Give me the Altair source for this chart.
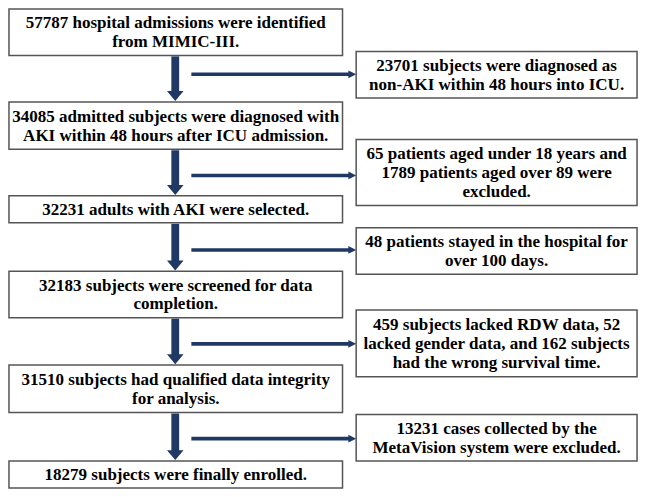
import altair as alt
import pandas as pd

# ---- content ----
main_steps = [
    "57787 hospital admissions were identified\nfrom MIMIC-III.",
    "34085 admitted subjects were diagnosed with\nAKI within 48 hours after ICU admission.",
    "32231 adults with AKI were selected.",
    "32183 subjects were screened for data\ncompletion.",
    "31510 subjects had qualified data integrity\nfor analysis.",
    "18279 subjects were finally enrolled.",
]
exclusions = [
    "23701 subjects were diagnosed as\nnon-AKI within 48 hours into ICU.",
    "65 patients aged under 18 years and\n1789 patients aged over 89 were\nexcluded.",
    "48 patients stayed in the hospital for\nover 100 days.",
    "459 subjects lacked RDW data, 52\nlacked gender data, and 162 subjects\nhad the wrong survival time.",
    "13231 cases collected by the\nMetaVision system were excluded.",
]

# ---- layout (reference pixel space 647 x 497) ----
left_x = (1, 343)
left_top = [1, 97, 194, 272, 369, 468]
left_bot = [49, 146, 222, 320, 418, 496]
right_x = (357, 645)
right_top = [45, 136, 227, 312, 420]
right_bot = [93, 204, 275, 381, 468]
h_arrow_y = [68.5, 173, 250, 347, 445]
v_arrow_x = 171.5
h_arrow_x0 = 188

W, H = 631, 481
SX, SY = W / 647, H / 497
NAVY = "#1f3864"
LH = 19.5  # line spacing in reference px
FONT = "Liberation Serif"

boxes, lines = [], []
def add(t, xa, xb, a, b):
    parts = t.split("\n")
    n = len(parts)
    boxes.append(dict(x=xa, x2=xb, y=a, y2=b))
    for i, p in enumerate(parts):
        lines.append(dict(cx=(xa + xb) / 2,
                          cy=(a + b) / 2 + (i - (n - 1) / 2) * LH + 0.5,
                          label=p))

for t, a, b in zip(main_steps, left_top, left_bot):
    add(t, left_x[0], left_x[1], a, b)
for t, a, b in zip(exclusions, right_top, right_bot):
    add(t, right_x[0], right_x[1], a, b)
boxes = pd.DataFrame(boxes)
lines = pd.DataFrame(lines)

vshaft = pd.DataFrame(dict(
    x=[v_arrow_x - 4] * 5, x2=[v_arrow_x + 4] * 5,
    y=[b + 1 for b in left_bot[:-1]], y2=[t - 10 for t in left_top[1:]],
))
vhead = pd.DataFrame(dict(x=[v_arrow_x] * 5, y=[t - 6 for t in left_top[1:]]))
hshaft = pd.DataFrame(dict(x=[h_arrow_x0] * 5, x2=[right_x[0] - 6] * 5, y=h_arrow_y))
hhead = pd.DataFrame(dict(x=[right_x[0] - 4] * 5, y=h_arrow_y))

xs = alt.Scale(domain=[0, 647], nice=False, zero=False)
ys = alt.Scale(domain=[0, 497], nice=False, zero=False, reverse=True)

rects = alt.Chart(boxes).mark_rect(
    fill="white", stroke="#555555", strokeWidth=1.5
).encode(
    x=alt.X("x:Q", scale=xs, axis=None), x2="x2:Q",
    y=alt.Y("y:Q", scale=ys, axis=None), y2="y2:Q",
)
texts = alt.Chart(lines).mark_text(
    font=FONT, fontWeight="bold", fontSize=17,
    align="center", baseline="middle", color="black",
).encode(
    x=alt.X("cx:Q", scale=xs, axis=None),
    y=alt.Y("cy:Q", scale=ys, axis=None),
    text="label:N",
)
vs = alt.Chart(vshaft).mark_rect(color=NAVY).encode(
    x=alt.X("x:Q", scale=xs, axis=None), x2="x2:Q",
    y=alt.Y("y:Q", scale=ys, axis=None), y2="y2:Q",
)
vh = alt.Chart(vhead).mark_point(
    shape="M -1 -0.6 L 1 -0.6 L 0 0.6 Z", filled=True, opacity=1,
    color=NAVY, size=(17 * SX) ** 2, strokeWidth=0,
).encode(
    x=alt.X("x:Q", scale=xs, axis=None),
    y=alt.Y("y:Q", scale=ys, axis=None),
)
hs = alt.Chart(hshaft).mark_rule(color=NAVY, strokeWidth=3.6).encode(
    x=alt.X("x:Q", scale=xs, axis=None), x2="x2:Q",
    y=alt.Y("y:Q", scale=ys, axis=None),
)
hh = alt.Chart(hhead).mark_point(
    shape="M -1 -1 L 1 0 L -1 1 Z", filled=True, opacity=1,
    color=NAVY, size=(8 * SX) ** 2, strokeWidth=0,
).encode(
    x=alt.X("x:Q", scale=xs, axis=None),
    y=alt.Y("y:Q", scale=ys, axis=None),
)

chart = alt.layer(rects, vs, vh, hs, hh, texts).properties(
    width=W, height=H, padding=0,
    autosize=alt.AutoSizeParams(type="none"),
    background="white",
).configure(font=FONT).configure_text(font=FONT).configure_view(stroke=None)

chart.save("out.html", embed_options={"renderer": "svg", "actions": False})
